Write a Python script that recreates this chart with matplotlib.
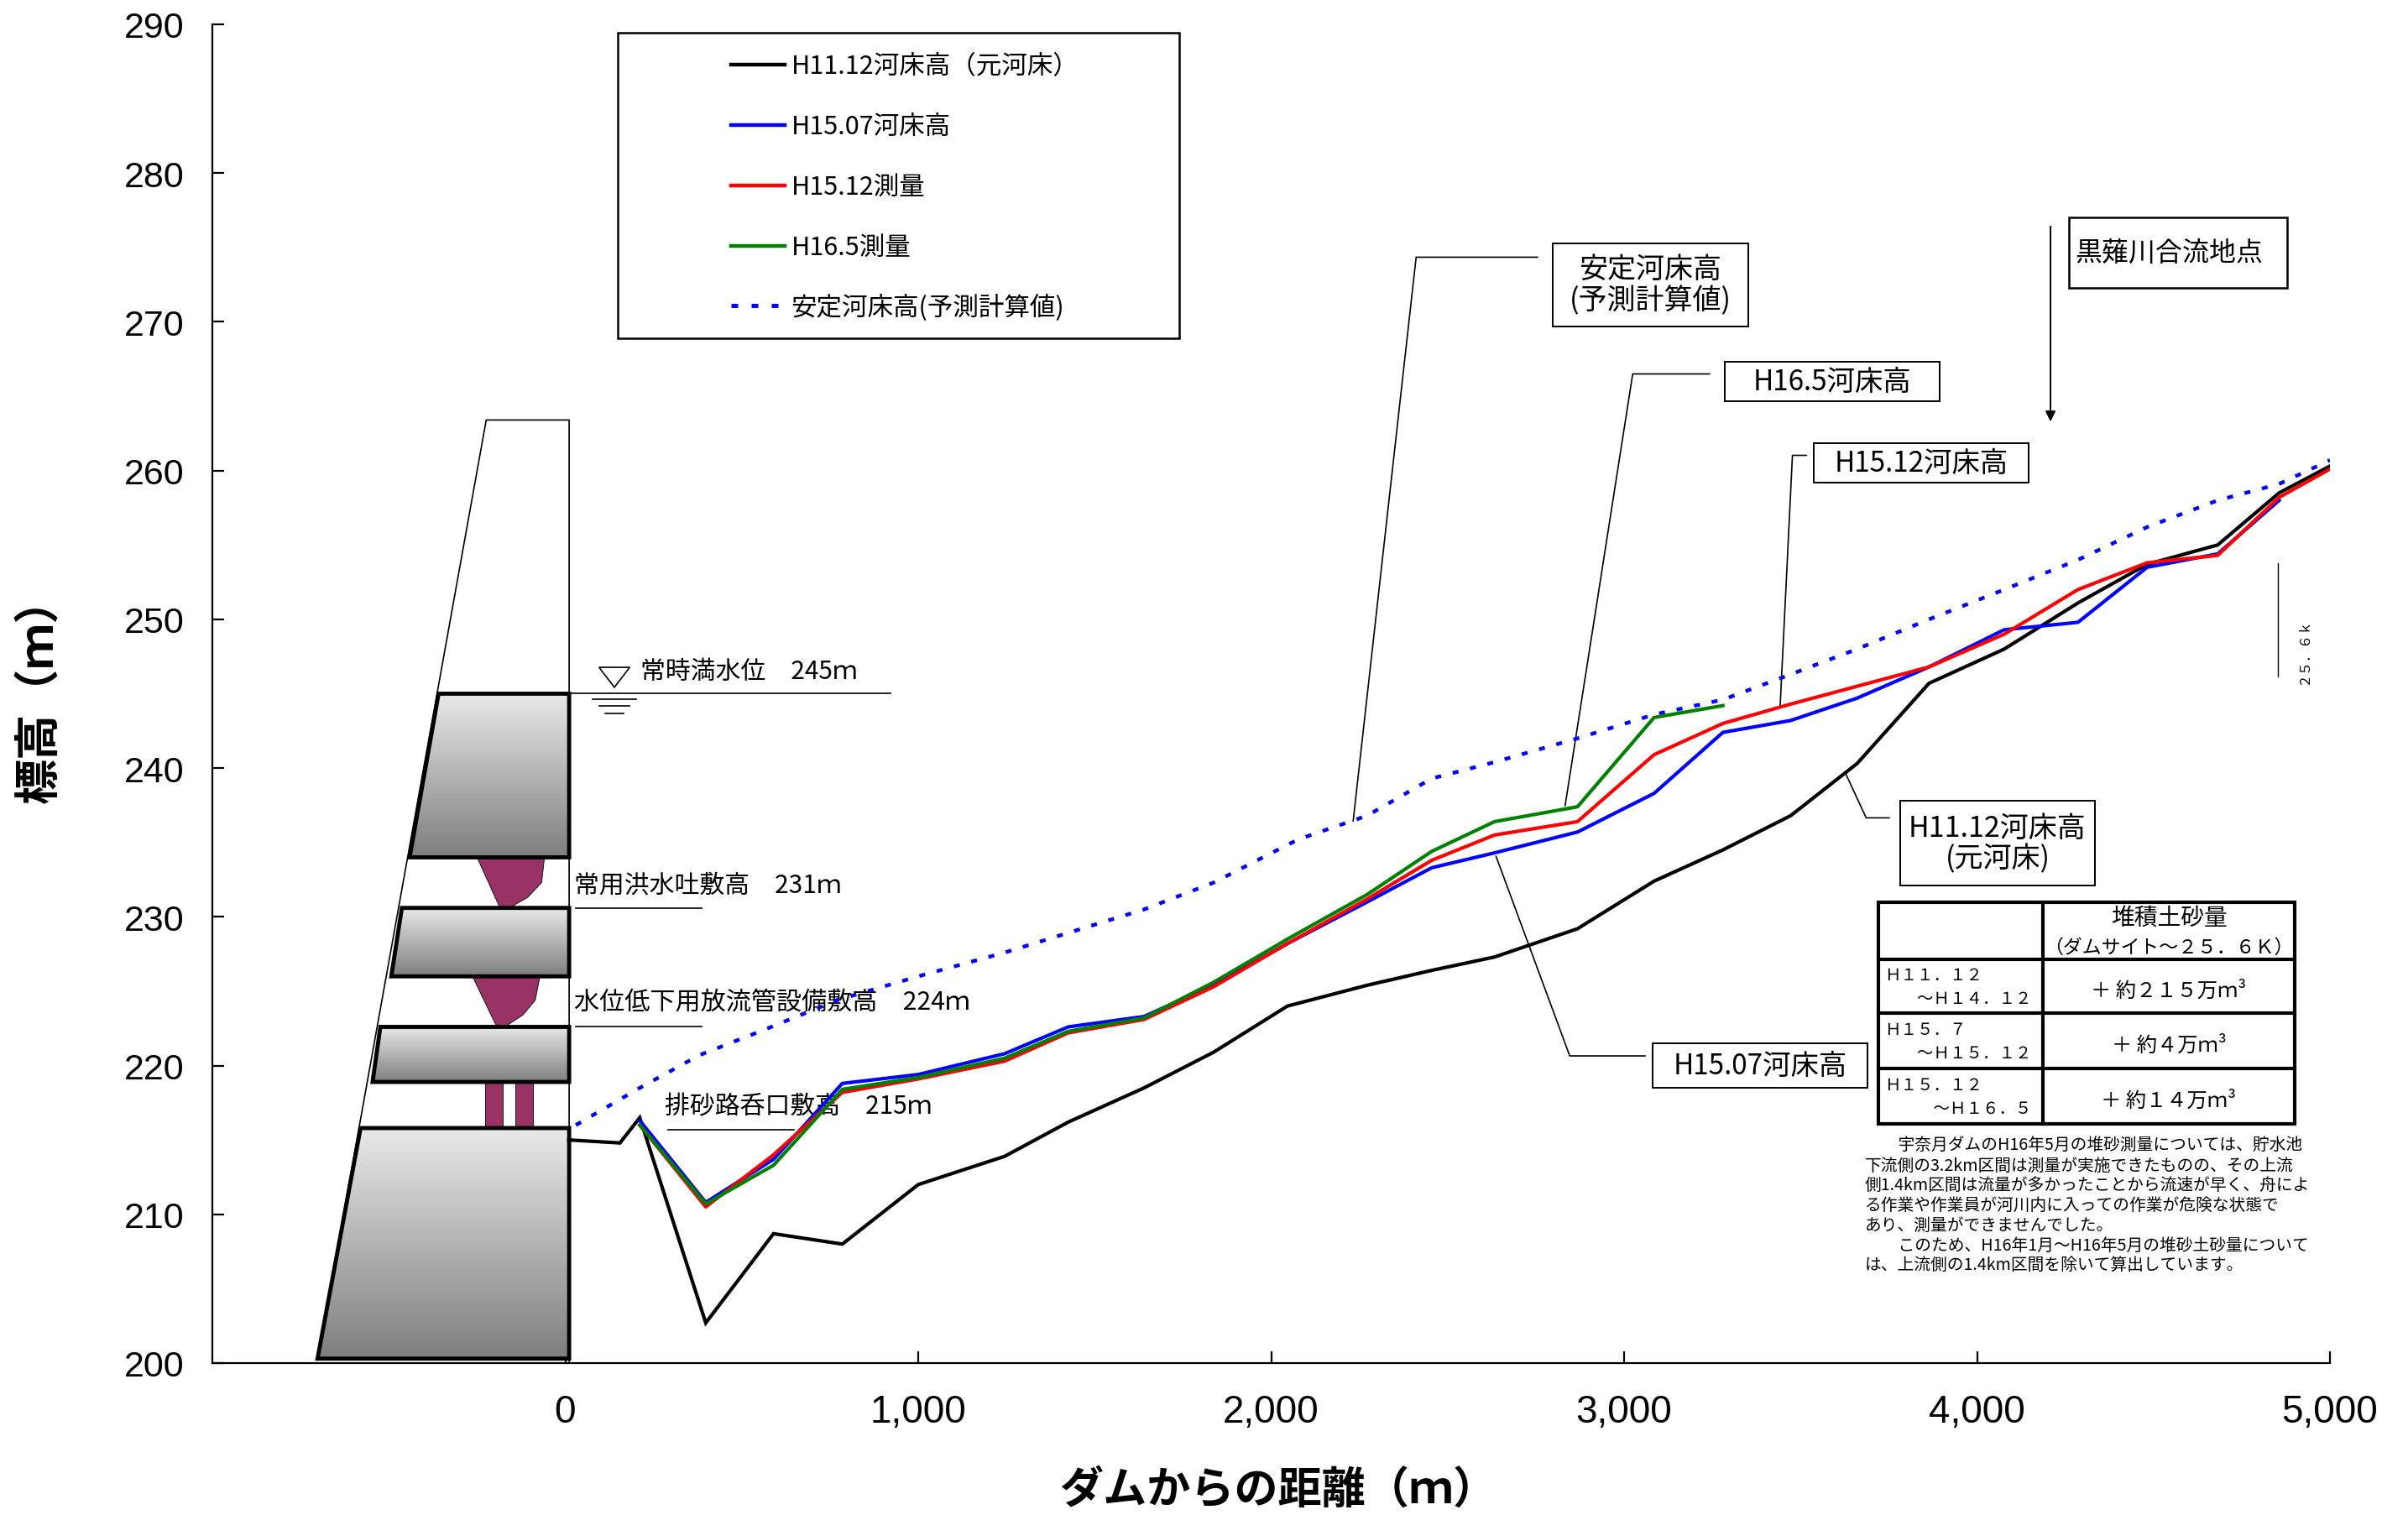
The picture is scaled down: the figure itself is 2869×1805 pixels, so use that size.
import numpy as np
import matplotlib
matplotlib.use('Agg')
import matplotlib.pyplot as plt
from matplotlib.colors import LinearSegmentedColormap
from matplotlib.patches import Polygon, Rectangle

plt.rcParams['font.family'] = ['Noto Sans CJK JP', 'DejaVu Sans']

# survey stations (m from the dam)
x_black = [10, 155, 211, 398, 590, 785, 1000, 1245, 1425, 1640, 1837, 2046, 2272, 2455, 2633, 2868,
           3085, 3280, 3472, 3660, 3864, 4077, 4286, 4482, 4682, 4856, 5000]
h11_12 = [215.0, 214.8, 216.5, 202.7, 208.7, 208.0, 212.0, 213.9, 216.2, 218.5, 220.9, 224.0, 225.4, 226.4,
          227.3, 229.2, 232.4, 234.5, 236.8, 240.3, 245.7, 248.0, 251.1, 253.7, 255.0, 258.5, 260.3]

x_survey = [211, 398, 590, 785, 1000, 1245, 1425, 1640, 1837, 2046, 2272, 2455, 2633, 2868,
            3085, 3280, 3472, 3660, 3864, 4077, 4286, 4482, 4682, 4856, 5000]
h15_07 = [216.3, 210.8, 213.7, 218.8, 219.4, 220.8, 222.6, 223.3, 225.4, 228.2, 231.0, 233.3, 234.3, 235.7,
          238.3, 242.4, 243.2, 244.7, 246.8, 249.3, 249.8, 253.5, 254.4, 258.0]
h15_12 = [216.0, 210.5, 214.0, 218.2, 219.1, 220.3, 222.2, 223.1, 225.3, 228.2, 231.2, 233.8, 235.5, 236.4,
          240.9, 243.0, 244.3, 245.5, 246.8, 249.0, 252.0, 253.8, 254.3, 258.2, 260.1]
h16_5 = [216.0, 210.7, 213.3, 218.4, 219.2, 220.5, 222.3, 223.2, 225.6, 228.5, 231.5, 234.4, 236.4, 237.4,
         243.4, 244.2]

x_stable = [30, 211, 380, 563, 770, 1000, 1245, 1640, 1837, 2076, 2272, 2455, 2633, 2868,
            3085, 3280, 3472, 3660, 3864, 4077, 4286, 4482, 4682, 4856, 5000]
stable = [216.0, 218.5, 220.7, 222.4, 224.4, 226.0, 227.6, 230.5, 232.3, 235.2, 236.8, 239.3, 240.4, 242.0,
          243.6, 244.6, 246.3, 248.0, 250.0, 252.0, 254.0, 256.2, 258.0, 259.1, 260.7]

# dam cross section, metres / elevation
dam_outline = [(-702, 200.3), (-224, 263.4), (11, 263.4), (11, 200.0)]
dam_blocks = [
    [(-359, 245.0), (11, 245.0), (11, 234.0), (-441, 234.0)],
    [(-463, 230.6), (11, 230.6), (11, 226.0), (-493, 226.0)],
    [(-524, 222.6), (11, 222.6), (11, 218.9), (-546, 218.9)],
    [(-580, 215.8), (11, 215.8), (11, 200.3), (-702, 200.3)],
]
spillways = [
    [(-250, 234.0), (-59, 234.0), (-67, 232.3), (-107, 231.3), (-159, 230.6), (-185, 230.6)],
    [(-263, 226.0), (-72, 226.0), (-85, 224.4), (-120, 223.4), (-172, 222.6), (-194, 222.6)],
]
sluices = [(-228, 50), (-141, 50)]

xticks = [0, 1000, 2000, 3000, 4000, 5000]
xticklabels = ['0', '1,000', '2,000', '3,000', '4,000', '5,000']
yticks = list(range(200, 300, 10))

legend_items = [('H11.12河床高（元河床）', 'black', '-'),
                ('H15.07河床高', '#0000ff', '-'),
                ('H15.12測量', '#ff0000', '-'),
                ('H16.5測量', '#008000', '-'),
                ('安定河床高(予測計算値)', '#0000ff', (0, (1.6, 3.2)))]

table_left = ['Ｈ１１．１２\n　　～Ｈ１４．１２', 'Ｈ１５．７\n　　～Ｈ１５．１２', 'Ｈ１５．１２\n　　　～Ｈ１６．５']
table_right = ['＋ 約２１５万ｍ³', '＋ 約４万ｍ³', '＋ 約１４万ｍ³']

note = ['　　宇奈月ダムのH16年5月の堆砂測量については、貯水池',
        '下流側の3.2km区間は測量が実施できたものの、その上流',
        '側1.4km区間は流量が多かったことから流速が早く、舟によ',
        'る作業や作業員が河川内に入っての作業が危険な状態で',
        'あり、測量ができませんでした。',
        '　　このため、H16年1月～H16年5月の堆砂土砂量について',
        'は、上流側の1.4km区間を除いて算出しています。']

W, H = 2869, 1806
fig = plt.figure(figsize=(W / 100, H / 100), dpi=100)

# overlay for boxes and notes, units are the page scaled down by 1.83
ov = fig.add_axes([0, 0, 1, 1], zorder=0)
ov.set_xlim(0, W / 1.83)
ov.set_ylim(H / 1.83, 0)
ov.axis('off')

ax = fig.add_axes([253 / W, 1 - 1625 / H, (2776 - 253) / W, (1625 - 30) / H], zorder=1)
ax.patch.set_alpha(0)

# dam
ax.plot(*zip(*dam_outline), color='black', lw=1.2, zorder=2)
grey = LinearSegmentedColormap.from_list('dam', ['#e8e8e8', '#7f7f7f'])
for blk in dam_blocks:
    xs, ys = zip(*blk)
    im = ax.imshow(np.linspace(0, 1, 64).reshape(-1, 1), cmap=grey, aspect='auto', zorder=2,
                   extent=[min(xs), max(xs), min(ys), max(ys)], origin='upper')
    im.set_clip_path(Polygon(blk, transform=ax.transData))
    ax.add_patch(Polygon(blk, closed=True, fill=False, ec='black', lw=3.5, zorder=3))
for sp in spillways:
    ax.add_patch(Polygon(sp, closed=True, fc='#993366', ec='black', lw=0.6, zorder=2))
for left, w in sluices:
    ax.add_patch(Rectangle((left, 215.8), w, 3.1, fc='#993366', ec='black', lw=0.6, zorder=2))

# river bed lines
ax.plot(x_stable, stable, color='#0000ff', lw=3.2, ls=(0, (1.6, 3.2)), zorder=4)
ax.plot(x_black, h11_12, color='black', lw=3, zorder=5, solid_joinstyle='miter')
ax.plot(x_survey[:len(h15_07)], h15_07, color='#0000ff', lw=3, zorder=5)
ax.plot(x_survey[:len(h15_12)], h15_12, color='#ff0000', lw=3, zorder=6)
ax.plot(x_survey[:len(h16_5)], h16_5, color='#008000', lw=3, zorder=7)

ax.set_xlim(-1000, 5000)
ax.set_ylim(200, 290)
for s in ['top', 'right']:
    ax.spines[s].set_visible(False)
for s in ['left', 'bottom']:
    ax.spines[s].set_linewidth(1.6)
ax.set_xticks(xticks)
ax.set_xticklabels(xticklabels, fontsize=33, family='Liberation Sans')
ax.set_yticks(yticks)
ax.set_yticklabels([str(v) for v in yticks], fontsize=31, family='Liberation Sans')
ax.tick_params(axis='both', direction='in', length=10, width=1.6)
ax.tick_params(axis='y', pad=24)
ax.tick_params(axis='x', pad=26)

ov.text(832, 970, 'ダムからの距離（ｍ）', fontsize=37.5, fontweight='bold', ha='center', va='center')
ov.text(26, 449, '標高（ｍ）', fontsize=39, fontweight='bold', rotation=90, ha='center', va='center')

# legend box
ov.add_patch(Rectangle((402, 22), 366, 199, fill=False, ec='black', lw=1.8))
for i, (label, col, ls) in enumerate(legend_items):
    y = 42.5 + i * 39.3
    ov.plot([476, 511], [y, y], color=col, lw=3.2 if i < 4 else 3.6, ls=ls)
    ov.text(515, y + 1, label, fontsize=22, va='center', ha='left')


def callout(x0, y0, x1, y1, text, path, ha='center', tx=None, fs=24, lw=1.4):
    ov.add_patch(Rectangle((x0, y0), x1 - x0, y1 - y0, fill=False, ec='black', lw=lw))
    if tx is None:
        tx = (x0 + x1) / 2
    ov.text(tx, (y0 + y1) / 2, text, fontsize=fs, ha=ha, va='center', linespacing=1.05)
    if path:
        ov.plot(*zip(*path), color='black', lw=1.2)


callout(1011, 159, 1138, 213, '安定河床高\n(予測計算値)', [(1001, 168), (922, 168), (881, 535)], fs=24.5)
callout(1123, 236, 1263, 262, 'H16.5河床高', [(1113, 244), (1063, 244), (1019, 525)])
callout(1181, 289, 1321, 315, 'H15.12河床高', [(1176, 297), (1167, 297), (1159, 460)])
callout(1347, 142, 1489, 188, '黒薙川合流地点', None, ha='left', tx=1351, lw=1.8, fs=23)
callout(1237, 522, 1364, 577, 'H11.12河床高\n(元河床)', [(1230, 533), (1215, 533), (1202, 505)], fs=24.5)
callout(1076, 680, 1216, 709, 'H15.07河床高', [(1071, 688), (1022, 688), (974, 558)])

ov.annotate('', xy=(1335, 275), xytext=(1335, 148),
            arrowprops=dict(arrowstyle='-|>', color='black', lw=1.4, mutation_scale=18, shrinkA=0, shrinkB=0))

ov.plot([1483, 1483], [367, 441], color='black', lw=1.0)
ov.text(1500, 424, '２５．６ｋ', fontsize=11.5, rotation=90, ha='center', va='center')

# water level and sill labels
ov.plot([370, 580], [452, 452], color='black', lw=1.2)
ov.add_patch(Polygon([(390, 435), (410, 435), (400, 448)], closed=True, fill=False, ec='black', lw=1.2))
for y, a, b in [(456, 386, 414), (460, 390, 410), (465, 394, 406)]:
    ov.plot([a, b], [y, y], color='black', lw=1.2)
ov.text(417, 437.5, '常時満水位　245ｍ', fontsize=21.5, va='center')
ov.text(374, 576.5, '常用洪水吐敷高　231ｍ', fontsize=21.5, va='center')
ov.plot([375, 457], [592, 592], color='black', lw=1.2)
ov.text(374, 652.5, '水位低下用放流管設備敷高　224ｍ', fontsize=21.7, va='center')
ov.plot([375, 457], [669, 669], color='black', lw=1.2)
ov.text(433, 720.5, '排砂路呑口敷高　215ｍ', fontsize=21.5, va='center')
ov.plot([435, 517], [736, 736], color='black', lw=1.2)

# sediment table
tx0, tx1, txm = 1223, 1494, 1330
rows = [588, 625, 660, 696, 732]
ov.add_patch(Rectangle((tx0, rows[0]), tx1 - tx0, rows[-1] - rows[0], fill=False, ec='black', lw=3))
ov.plot([txm, txm], [rows[0], rows[-1]], color='black', lw=3)
for y in rows[1:-1]:
    ov.plot([tx0, tx1], [y, y], color='black', lw=3)
ov.text((txm + tx1) / 2, 598, '堆積土砂量', fontsize=20, ha='center', va='center')
ov.text((txm + tx1) / 2, 617, '（ダムサイト～２５．６Ｋ）', fontsize=16.5, ha='center', va='center')
for i in range(3):
    ov.text(tx0 + 4, (rows[i + 1] + rows[i + 2]) / 2 + 0.5, table_left[i], fontsize=14, va='center', linespacing=1.4)
    ov.text((txm + tx1) / 2, (rows[i + 1] + rows[i + 2]) / 2 + 3, table_right[i], fontsize=17.5, ha='center', va='center')

for i, line in enumerate(note):
    ov.text(1214, 746 + i * 13.0, line, fontsize=14.2, va='center')

fig.savefig('out.png', dpi=100)
